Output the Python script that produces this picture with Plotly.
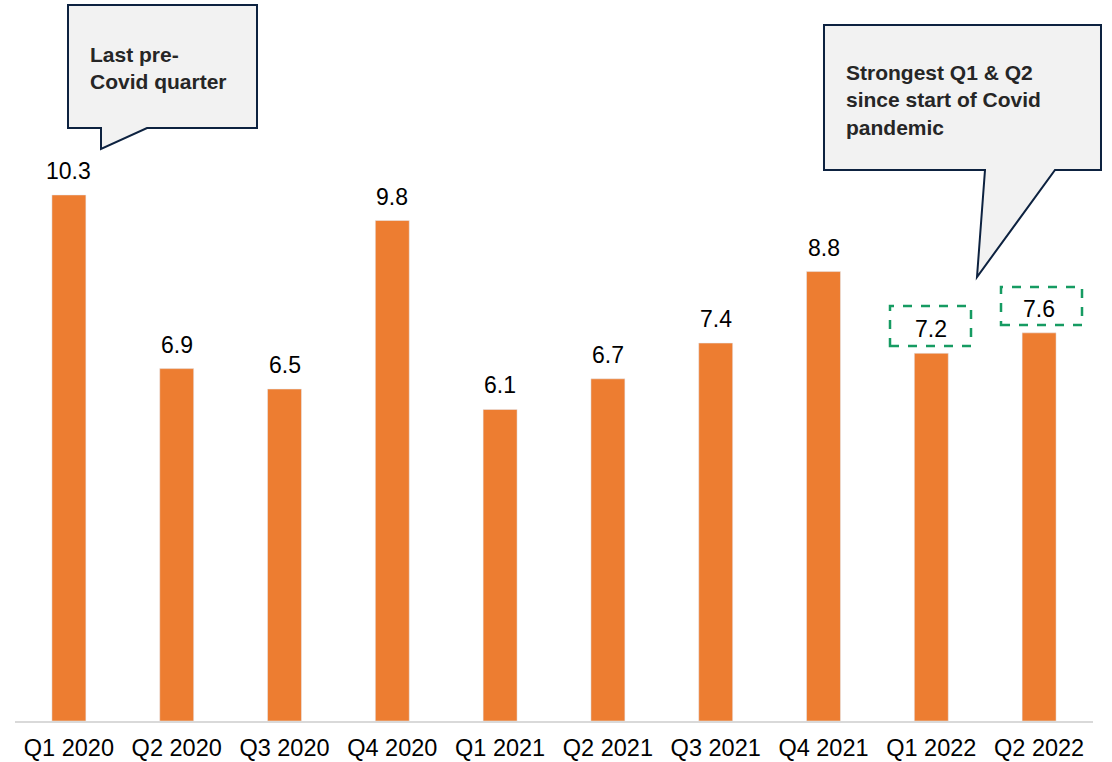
import plotly.graph_objects as go

quarters = ["Q1 2020", "Q2 2020", "Q3 2020", "Q4 2020", "Q1 2021",
            "Q2 2021", "Q3 2021", "Q4 2021", "Q1 2022", "Q2 2022"]
values = [10.3, 6.9, 6.5, 9.8, 6.1, 6.7, 7.4, 8.8, 7.2, 7.6]
callout_left = "Last pre-<br>Covid quarter"
callout_right = "Strongest Q1 &amp; Q2<br>since start of Covid<br>pandemic"

W, H = 1112, 762
ML, MR, MT, MB = 15, 19, 6, 41
PW, PH = W - ML - MR, H - MT - MB
FONT = "Liberation Sans, Arial, sans-serif"


def px(x):
    return (x - ML) / PW


def py(y):
    return (H - MB - y) / PH


def path(points):
    return "M " + " L ".join(f"{px(x):.5f},{py(y):.5f}" for x, y in points) + " Z"


fig = go.Figure()
fig.add_trace(go.Bar(
    x=quarters, y=values, marker_color="#ED7D31", width=0.315,
    hoverinfo="x+y",
))

annotations = []
for q, v in zip(quarters, values):
    annotations.append(dict(
        x=q, y=v, xref="x", yref="y", text=f"{v:.1f}", showarrow=False,
        yanchor="bottom", yshift=9, font=dict(size=23, color="#000000", family=FONT),
    ))

shapes = [
    dict(type="path", xref="paper", yref="paper",
         path=path([(68, 5), (257, 5), (257, 128), (147, 128), (101, 149), (101, 128), (68, 128)]),
         fillcolor="#F2F2F2", line=dict(color="#0D2240", width=2), layer="above"),
    dict(type="path", xref="paper", yref="paper",
         path=path([(824, 25), (1101, 25), (1101, 170), (1055, 170), (977, 277), (985, 170), (824, 170)]),
         fillcolor="#F2F2F2", line=dict(color="#0D2240", width=2), layer="above"),
    dict(type="rect", xref="paper", yref="paper",
         x0=px(890), x1=px(971), y0=py(346), y1=py(306),
         line=dict(color="#169B62", width=2.5, dash="dash")),
    dict(type="rect", xref="paper", yref="paper",
         x0=px(1001), x1=px(1082), y0=py(325), y1=py(287),
         line=dict(color="#169B62", width=2.5, dash="dash")),
]

annotations.append(dict(
    x=px(88), y=py(41), xref="paper", yref="paper", text=f"<b>{callout_left}</b>",
    showarrow=False, xanchor="left", yanchor="top", align="left",
    font=dict(size=21, color="#262626", family=FONT),
))
annotations.append(dict(
    x=px(844), y=py(59), xref="paper", yref="paper", text=f"<b>{callout_right}</b>",
    showarrow=False, xanchor="left", yanchor="top", align="left",
    font=dict(size=21, color="#262626", family=FONT),
))

fig.update_layout(
    width=W, height=H,
    margin=dict(l=ML, r=MR, t=MT, b=MB, autoexpand=False),
    paper_bgcolor="white", plot_bgcolor="white",
    showlegend=False,
    font=dict(family=FONT, color="#000000"),
    xaxis=dict(showline=True, linecolor="#D9D9D9", linewidth=2, showgrid=False,
               ticks="", ticklabelstandoff=5, automargin=False,
               tickfont=dict(size=23.5, color="#000000"), fixedrange=True),
    yaxis=dict(range=[0, 14], visible=False, showgrid=False, fixedrange=True),
    shapes=shapes,
    annotations=annotations,
    bargap=0.685,
)

fig.write_html("out.html")
